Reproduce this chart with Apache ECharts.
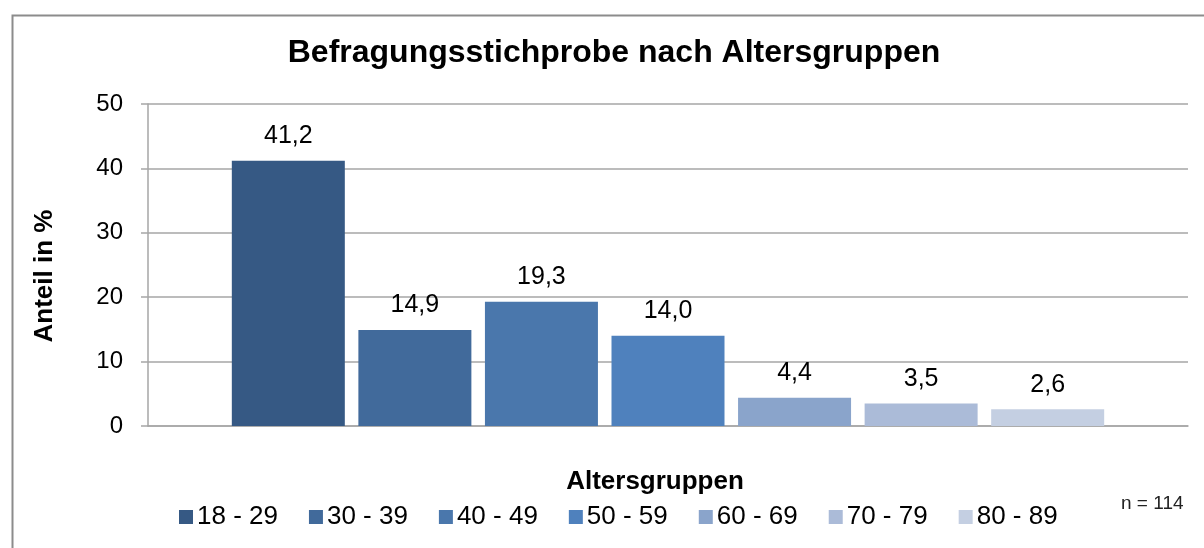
<!DOCTYPE html>
<html>
<head>
<meta charset="utf-8">
<title>Befragungsstichprobe nach Altersgruppen</title>
<script src="https://cdn.jsdelivr.net/npm/echarts@6/dist/echarts.min.js"></script>
<style>
html, body { margin: 0; padding: 0; background: #fff; }
#main { width: 1204px; height: 548px; }
</style>
</head>
<body>
<div id="main"></div>
<script>
// Daten
var groups = ['18 - 29', '30 - 39', '40 - 49', '50 - 59', '60 - 69', '70 - 79', '80 - 89'];
var shares = [41.2, 14.9, 19.3, 14.0, 4.4, 3.5, 2.6];
var colors = ['#365984', '#416a9b', '#4a77ac', '#4f81bd', '#8aa4cb', '#abbbd8', '#c4cfe2'];
var yTicks = [0, 10, 20, 30, 40, 50];

var font = '"Liberation Sans", Arial, sans-serif';
var gridColor = '#a6a6a6';

var myChart = echarts.init(document.getElementById('main'));

// eine Serie pro Altersgruppe, alle in derselben Kategorie
var series = groups.map(function (g, i) {
    return {
        name: g,
        type: 'bar',
        data: [shares[i]],
        barWidth: 113,
        barGap: '12%',
        itemStyle: { color: colors[i] },
        label: {
            show: true,
            position: 'top',
            distance: 12,
            fontFamily: font,
            fontSize: 25,
            color: '#000',
            formatter: function (p) {
                return p.value.toFixed(1).replace('.', ',');
            }
        }
    };
});

var option = {
    animation: false,
    backgroundColor: '#fff',
    title: [{
        text: 'Befragungsstichprobe nach Altersgruppen',
        left: 614,
        top: 37,
        textAlign: 'center',
        padding: 0,
        textStyle: { fontFamily: font, fontSize: 32, fontWeight: 'bold', color: '#000' }
    }, {
        text: 'Altersgruppen',
        left: 655,
        top: 469,
        textAlign: 'center',
        padding: 0,
        textStyle: { fontFamily: font, fontSize: 26, fontWeight: 'bold', color: '#000' }
    }],
    legend: {
        data: groups,
        left: 179,
        top: 504,
        padding: 0,
        icon: 'rect',
        itemWidth: 14,
        itemHeight: 14,
        itemGap: 31,
        textStyle: { fontFamily: font, fontSize: 26, color: '#000', padding: [0, 0, 0, -1] }
    },
    grid: { left: 148, right: 16, top: 104, bottom: 122 },
    xAxis: {
        type: 'category',
        data: [''],
        axisLine: { lineStyle: { color: gridColor, width: 1.5 } },
        axisTick: { show: false },
        axisLabel: { show: false }
    },
    yAxis: {
        type: 'value',
        min: yTicks[0],
        max: yTicks[yTicks.length - 1],
        interval: 10,
        axisLine: { show: true, lineStyle: { color: gridColor, width: 1.5 } },
        axisTick: { show: true, length: 7, lineStyle: { color: gridColor, width: 1.5 } },
        axisLabel: { margin: 25, fontFamily: font, fontSize: 24, color: '#000' },
        splitLine: { lineStyle: { color: gridColor, width: 1.5 } }
    },
    graphic: [{
        type: 'rect',
        left: 10,
        top: 13,
        shape: { width: 1220, height: 560 },
        style: { fill: 'none', stroke: '#8c8c8c', lineWidth: 2 },
        silent: true
    }, {
        // Achsentitel der y-Achse
        type: 'text',
        x: 45,
        y: 276,
        rotation: Math.PI / 2,
        style: {
            text: 'Anteil in %',
            fontFamily: font, fontSize: 26, fontWeight: 'bold', fill: '#000',
            align: 'center', verticalAlign: 'middle'
        }
    }, {
        type: 'text',
        left: 1121,
        top: 494,
        style: { text: 'n = 114', fontFamily: font, fontSize: 19, fill: '#222' }
    }],
    series: series
};

myChart.setOption(option);
</script>
</body>
</html>
